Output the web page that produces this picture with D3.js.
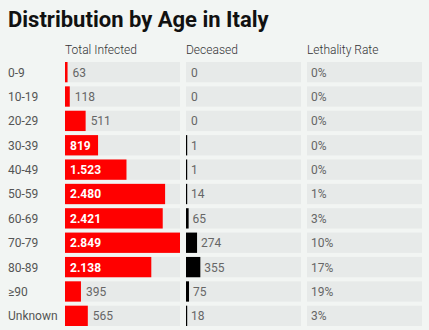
<!DOCTYPE html>
<html><head><meta charset="utf-8">
<script src="https://cdn.jsdelivr.net/npm/d3@7"></script>
<style>
body{margin:0;background:#f2f5f3;font-family:Roboto,"Noto Sans",sans-serif;}
</style></head><body>
<svg id="c" width="429" height="330"></svg>
<script>
const ages = ["0-9","10-19","20-29","30-39","40-49","50-59","60-69","70-79","80-89","≥90","Unknown"];
const infected = [63,118,511,819,1523,2480,2421,2849,2138,395,565];
const deceased = [0,0,0,1,1,14,65,274,355,75,18];
const lethality = ["0%","0%","0%","0%","0%","1%","3%","10%","17%","19%","3%"];
const headers = ["Total Infected","Deceased","Lethality Rate"];

const svg = d3.select("#c");
svg.append("rect").attr("width",429).attr("height",330).attr("fill","#f2f5f3");
svg.append("text").attr("x",8).attr("y",27).text("Distribution by Age in Italy")
  .attr("font-size",22).attr("font-weight",700).attr("fill","#111");

const colX = [65,186,307], colW = 115;
const yb = d3.scaleBand().domain(ages).range([62,62+24*11]).paddingInner(0.1667).paddingOuter(0).align(0);
const x = d3.scaleLinear().domain([0,d3.max(infected)]).range([0,colW]);
const fmt = v => d3.format(",")(v).replace(/,/g,".");

headers.forEach((h,i)=>svg.append("text").attr("x",colX[i]).attr("y",54).text(h)
  .attr("font-size",12).attr("font-weight",300).attr("fill","#333"));

const rows = svg.selectAll("g.row").data(ages).join("g").attr("class","row")
  .attr("transform",d=>`translate(0,${yb(d)})`);
const h = yb.bandwidth();
rows.append("text").attr("x",8).attr("y",h/2+4.5).text(d=>d)
  .attr("font-size",12).attr("font-weight",400).attr("fill","#555");
colX.forEach(cx=>rows.append("rect").attr("x",cx).attr("width",colW).attr("height",h).attr("fill","#e7eae9"));

// infected
rows.append("rect").attr("x",colX[0]).attr("height",h).attr("fill","#ff0000")
  .attr("width",(d,i)=>Math.max(1.5,x(infected[i])));
rows.append("text").attr("y",h/2+4.5).attr("font-size",12)
  .each(function(d,i){
    const w = x(infected[i]); const inside = w>30;
    d3.select(this).attr("x", inside? colX[0]+5 : colX[0]+Math.max(1.5,w)+5)
      .attr("fill", inside?"#fff":"#666").attr("font-weight", inside?700:400).text(fmt(infected[i]));
  });
// deceased
rows.append("rect").attr("x",colX[1]).attr("height",h).attr("fill","#000")
  .attr("width",(d,i)=>deceased[i]>0?Math.max(1.2,x(deceased[i])):0);
rows.append("text").attr("y",h/2+4.5).attr("font-size",12).attr("font-weight",400).attr("fill","#666")
  .attr("x",(d,i)=>colX[1]+Math.max(1,x(deceased[i]))+4).text((d,i)=>fmt(deceased[i]));
// lethality
rows.append("text").attr("x",colX[2]+4).attr("y",h/2+4.5).attr("font-size",12).attr("font-weight",400).attr("fill","#666")
  .text((d,i)=>lethality[i]);
</script></body></html>
